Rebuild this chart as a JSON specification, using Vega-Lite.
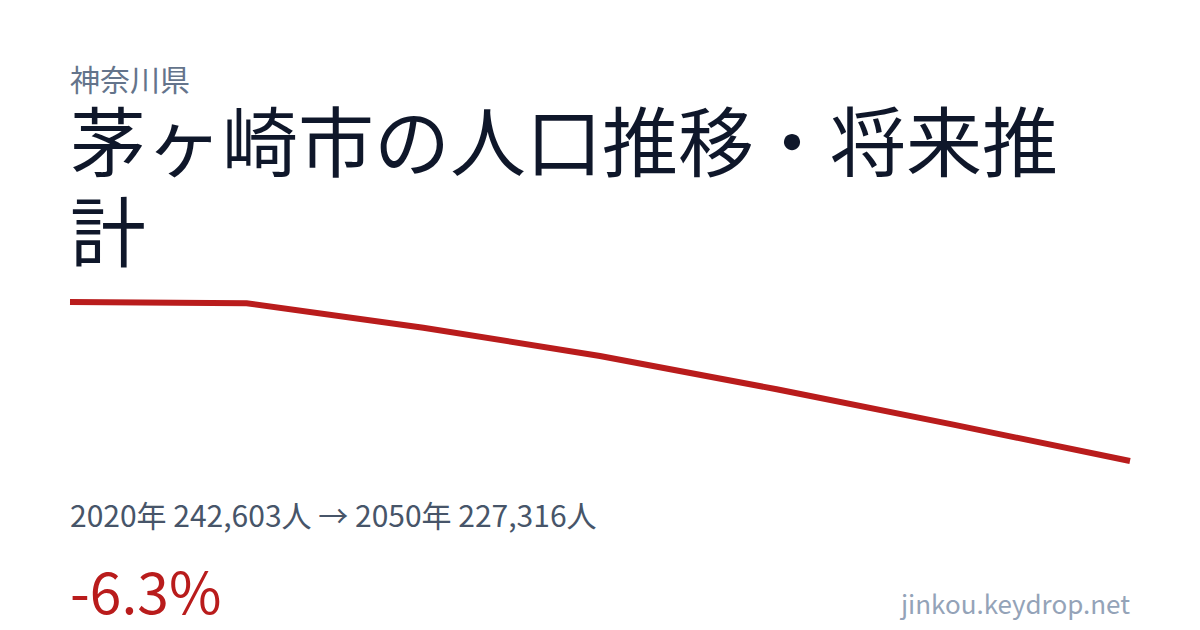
{
  "$schema": "https://vega.github.io/schema/vega-lite/v6.json",
  "background": "white",
  "padding": {"left": 58, "right": 70, "top": 67, "bottom": 10},
  "datasets": {
    "population": [
      {"year": 2020, "pop": 242603},
      {"year": 2025, "pop": 242478},
      {"year": 2030, "pop": 240133},
      {"year": 2035, "pop": 237414},
      {"year": 2040, "pop": 234213},
      {"year": 2045, "pop": 230811},
      {"year": 2050, "pop": 227316}
    ],
    "footer": [
      {"row": "summary", "side": "left", "label": "2020年 242,603人 → 2050年 227,316人"},
      {"row": "change", "side": "left", "label": "-6.3%"},
      {"row": "change", "side": "right", "label": "jinkou.keydrop.net"}
    ]
  },
  "spacing": 30,
  "vconcat": [
    {
      "width": 1060,
      "height": 159,
      "title": {
        "text": "神奈川県",
        "subtitle": ["茅ヶ崎市の人口推移・将来推", "計"],
        "anchor": "start",
        "frame": "group",
        "font": "Noto Sans CJK JP",
        "fontSize": 30,
        "fontWeight": "normal",
        "color": "#64748b",
        "subtitleFont": "Noto Sans CJK JP",
        "subtitleFontSize": 76,
        "subtitleLineHeight": 90,
        "subtitleColor": "#0f172a",
        "subtitlePadding": 14,
        "offset": 14
      },
      "data": {"name": "population"},
      "mark": {"type": "line", "color": "#b91c1c", "strokeWidth": 6, "strokeCap": "butt"},
      "encoding": {
        "x": {"field": "year", "type": "quantitative", "scale": {"domain": [2020, 2050], "nice": false}, "axis": null},
        "y": {"field": "pop", "type": "quantitative", "scale": {"zero": false, "nice": false}, "axis": null}
      }
    },
    {
      "width": 1060,
      "height": 87,
      "data": {"name": "footer"},
      "encoding": {
        "y": {"field": "row", "type": "ordinal", "scale": {"type": "point", "padding": 0, "domain": ["summary", "change"]}, "axis": null},
        "text": {"field": "label"}
      },
      "layer": [
        {
          "transform": [{"filter": "datum.row == 'summary'"}],
          "mark": {"type": "text", "align": "left", "baseline": "alphabetic", "font": "Noto Sans CJK JP", "fontSize": 30, "color": "#475569"},
          "encoding": {"x": {"value": 0}}
        },
        {
          "transform": [{"filter": "datum.row == 'change' && datum.side == 'left'"}],
          "mark": {"type": "text", "align": "left", "baseline": "alphabetic", "font": "Noto Sans CJK JP", "fontSize": 57, "color": "#b91c1c"},
          "encoding": {"x": {"value": 0}}
        },
        {
          "transform": [{"filter": "datum.side == 'right'"}],
          "mark": {"type": "text", "align": "right", "baseline": "alphabetic", "font": "Noto Sans CJK JP", "fontSize": 26, "color": "#94a3b8"},
          "encoding": {"x": {"value": "width"}}
        }
      ]
    }
  ],
  "config": {"view": {"stroke": null}}
}
